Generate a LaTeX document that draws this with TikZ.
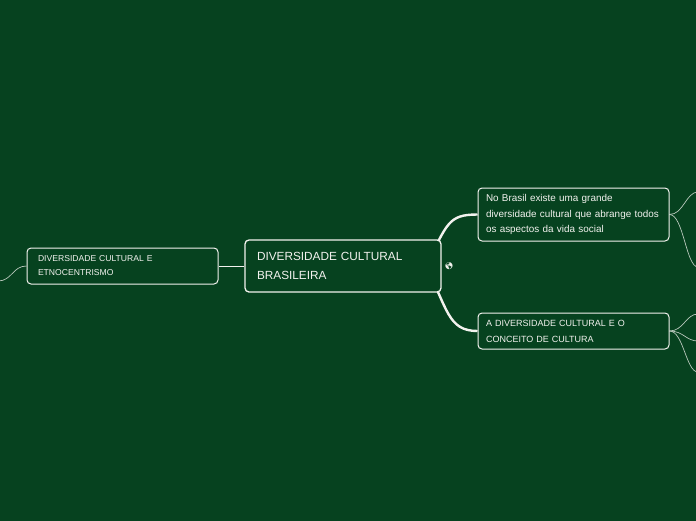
\documentclass[tikz,border=0pt]{standalone}
\usepackage{fontspec}
\setmainfont{Liberation Sans}
\newfontfamily\emojifont{Noto Emoji}
\usetikzlibrary{
  positioning,
  backgrounds
}
\definecolor{board}{HTML}{06421F}
\definecolor{chalk}{HTML}{F2F2EE}
\definecolor{twig}{HTML}{B9C8BC}

\begin{document}
\begin{tikzpicture}[
  x=1pt, y=-1pt,
  topic/.style={draw=chalk, fill=board, rounded corners=4pt, text=chalk,
                align=left, line width=1pt},
  link/.style={draw=chalk, line width=2.4pt},
  twiglink/.style={draw=twig, line width=0.7pt},
]
  \useasboundingbox (0,0) rectangle (696,520);
  % Central topic and its branches
  \node[topic, line width=1.3pt, text width=172pt, inner xsep=12pt, minimum height=52pt,
        font=\fontsize{11.8}{19}\selectfont] (root) at (343,266) {DIVERSIDADE CULTURAL\\BRASILEIRA};
  \node[topic, text width=169pt, inner xsep=11pt, minimum height=36pt,
        font=\fontsize{8.6}{14}\selectfont] (etno) at (122.5,266) {DIVERSIDADE CULTURAL E\\ETNOCENTRISMO};
  \node[topic, text width=175pt, inner xsep=8pt, minimum height=53pt,
        font=\fontsize{9.9}{15.5}\selectfont] (brasil) at (573.5,214.5) {No Brasil existe uma grande\\diversidade cultural que abrange todos\\os aspectos da vida social};
  \node[topic, text width=175pt, inner xsep=8pt, minimum height=36pt,
        font=\fontsize{9}{16}\selectfont] (conceito) at (573.5,331) {A DIVERSIDADE CULTURAL E O\\CONCEITO DE CULTURA};
  \node[text=chalk, inner sep=0pt, font=\emojifont\fontsize{7}{7}\selectfont] (globe) at (449,266) {🌎};

  % loose ends at the border
  \coordinate (etnoend) at (-2,281);
  \coordinate (brasilup) at (698,192);
  \coordinate (brasildown) at (698,267);
  \coordinate (conceitoup) at (698,314);
  \coordinate (conceitomid) at (698,341);
  \coordinate (conceitodown) at (698,372);

  \begin{scope}[on background layer]
    \fill[board] (-5,-5) rectangle (701,525);
    \draw[link] ([xshift=-16pt]root.east) .. controls +(22,-42) and +(-30,0) .. (brasil.west);
    \draw[link] ([xshift=-16pt]root.east) .. controls +(22,42) and +(-30,0) .. (conceito.west);
    \draw[twiglink, draw=chalk, line width=1pt] (root.west) -- (etno.east);
    \draw[twiglink] (etno.west) .. controls +(-14,0) and +(14,0) .. (etnoend);
    \draw[twiglink] (brasil.east) .. controls +(14,0) and +(-12,0) .. (brasilup);
    \draw[twiglink] (brasil.east) .. controls +(14,0) and +(-12,0) .. (brasildown);
    \draw[twiglink] (conceito.east) .. controls +(14,0) and +(-12,0) .. (conceitoup);
    \draw[twiglink] (conceito.east) .. controls +(14,0) and +(-12,0) .. (conceitomid);
    \draw[twiglink] (conceito.east) .. controls +(14,0) and +(-12,0) .. (conceitodown);
  \end{scope}
\end{tikzpicture}
\end{document}
